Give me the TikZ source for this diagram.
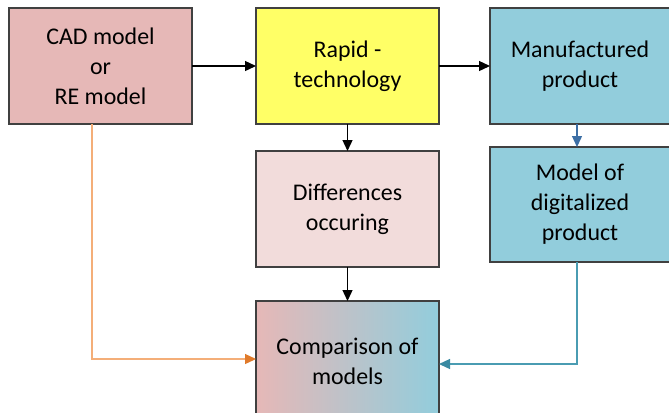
\documentclass[tikz,border=0pt]{standalone}
\usepackage{fontspec}
\setmainfont{Carlito}
\usetikzlibrary{arrows.meta,positioning}

\definecolor{cadpink}{HTML}{E6B8B7}
\definecolor{rapidyellow}{HTML}{FFFF66}
\definecolor{prodblue}{HTML}{92CDDC}
\definecolor{diffpink}{HTML}{F2DCDB}
\definecolor{boxgray}{HTML}{404040}
\definecolor{lineorange}{HTML}{F4AE78}
\definecolor{tiporange}{HTML}{E07A2A}
\definecolor{lineteal}{HTML}{4A9CB2}
\definecolor{tipteal}{HTML}{3A8AA2}
\definecolor{arrowblue}{HTML}{3D6FA5}

\begin{document}
\begin{tikzpicture}[x=1bp, y=1bp,
    box/.style={rectangle, draw=boxgray, line width=1.3bp, align=center,
      minimum height=116bp, minimum width=183bp, inner sep=0pt, outer sep=0pt,
      font=\fontsize{24}{30}\selectfont},
    flow/.style={line width=1.3bp, -{Triangle[length=11bp, width=10bp]}}]
    \useasboundingbox (0,0) rectangle (669,-412);
    \clip (0,0) rectangle (669,-412);
    \node(cad) [box, fill=cadpink] at (100.5,-66) {CAD model\\or\\RE model};
    \node(rapid) [box, fill=rapidyellow, right = 64bp of cad] {Rapid -\\technology};
    \node(manuf) [box, fill=prodblue, minimum width=180bp, right = 51bp of rapid] {Manufactured\\product};
    \node(diff) [box, fill=diffpink, below = 27bp of rapid] {Differences\\occuring};
    \node(model) [box, fill=prodblue, minimum width=180bp, minimum height=115bp, below = 23bp of manuf] {Model of\\digitalized\\product};
    \node(comp) [box, left color=cadpink, right color=prodblue, minimum height=120bp, below = 34bp of diff] {Comparison of\\models};
    \draw[flow] (cad) -- (rapid);
    \draw[flow] (rapid) -- (manuf);
    \draw[flow] (rapid) -- (diff);
    \draw[flow] (diff) -- (comp);
    \draw[flow, arrowblue] ([xshift=-3bp]manuf.south) -- ([xshift=-3bp]model.north);
    \draw[flow, lineorange, -{Triangle[length=11bp, width=10bp, color=tiporange]}] ([xshift=-8.5bp]cad.south) |- ([yshift=2bp]comp.west);
    \draw[flow, lineteal, -{Triangle[length=11bp, width=10bp, color=tipteal]}] ([xshift=-3bp]model.south) |- ([yshift=-3bp]comp.east);
\end{tikzpicture}
\end{document}
